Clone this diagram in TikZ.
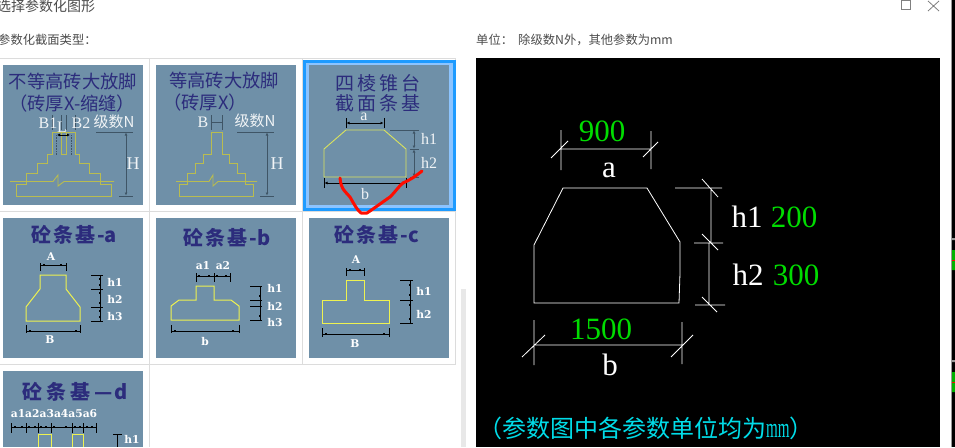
\documentclass[tikz,border=0pt]{standalone}
\usepackage{fontspec}
\setmainfont{Liberation Serif}
\newfontfamily\cjk{Noto Sans CJK SC}
\newfontfamily\cadbold{DejaVu Serif}
\usetikzlibrary{arrows.meta}
\definecolor{slate}{HTML}{6F90A8}
\definecolor{ink}{HTML}{2C2C7C}
\definecolor{gridline}{HTML}{DCDCDC}
\definecolor{selblue}{HTML}{1E9BFF}
\definecolor{sellight}{HTML}{8CC4FF}
\definecolor{oldyellow}{HTML}{B9BC50}
\definecolor{newyellow}{HTML}{EEF250}
\definecolor{dimgrey}{HTML}{3F5566}
\definecolor{cadgreen}{HTML}{00DC00}
\definecolor{cadcyan}{HTML}{00DCE8}
\tikzstyle{every node}=[inner sep=0pt]
\tikzstyle{ui}=[font=\cjk\fontsize{12.3}{12.3}\selectfont, text=black!70]
\tikzstyle{headline}=[font=\cjk\fontsize{18.3}{21}\selectfont, text=ink, align=center]
\tikzstyle{boldline}=[font=\cjk\bfseries\fontsize{20}{21}\selectfont, text=ink]
\tikzstyle{pale}=[font=\fontsize{16}{16}\selectfont, text=white!90!slate]
\tikzstyle{tag}=[font=\cadbold\bfseries\fontsize{10.7}{11}\selectfont, text=white]
\tikzstyle{big}=[font=\fontsize{31}{31}\selectfont, text=white]
\tikzstyle{bignum}=[font=\fontsize{31}{31}\selectfont, text=cadgreen]
\tikzstyle{panel}=[fill=slate, draw=none]
\tikzstyle{brick}=[draw=oldyellow, line width=.9pt]
\tikzstyle{sill}=[draw=newyellow, line width=1pt]
\tikzstyle{dimline}=[draw=dimgrey, line width=.8pt]
\tikzstyle{blackdim}=[draw=black, line width=.7pt]
\tikzstyle{cad}=[draw=white, line width=.8pt]
\tikzset{every picture/.append style={x=1pt,y=-1pt}}
\begin{document}
\begin{tikzpicture}[>={Latex[length=3pt,width=3pt]}]
  \useasboundingbox (0,0) rectangle (955,447);
  \fill[white] (0,0) rectangle (955,447);
  % window text
  \node[ui, anchor=west, font=\cjk\fontsize{14}{14}\selectfont] (wintitle) at (-3,6) {选择参数化图形};
  \node[ui, anchor=west] (typetext) at (-2,40) {参数化截面类型：};
  \node[ui, anchor=west] (unittext) at (476,40) {单位：};
  \node[ui, anchor=west] (unitnote) at (518,40) {除级数N外，其他参数为mm};
  \draw[black!50, line width=.8pt] (901.5,.5) rectangle (910,9);
  \draw[black!50, line width=.8pt] (928,1) -- (939,11) (939,1) -- (928,11);
  % grid of cells
  \draw[gridline, line width=1pt] (0,58.5) -- (456,58.5) (0,211.5) -- (456,211.5) (0,364.5) -- (456,364.5)
    (149.5,58.5) -- (149.5,447) (302.5,58.5) -- (302.5,364.5) (455.5,58.5) -- (455.5,364.5);
  \fill[black!9] (461,289) rectangle (466,447);
  \foreach \x/\y in {3/65,156/65,3/218,156/218,309/218}
    \fill[panel] (\x,\y) rectangle ++(140,140);
  \fill[panel] (3,371) rectangle (143,447);
  % selected cell
  \fill[selblue] (303,60) rectangle (456,211);
  \fill[sellight] (306,63) rectangle (453,208);
  \fill[panel] (309,65) rectangle (449,205);
  % first panel
  \node[headline] (titleone) at (73,82) {不等高砖大放脚};
  \node[headline, anchor=west] (subone) at (9,104) {（砖厚X-缩缝）};
  \draw[brick] (52,132) -- (75,132) -- (75,154) -- (79,154) -- (79,163) -- (89,163) -- (89,173) -- (100,173) -- (100,184)
    -- (111,184) -- (111,196) -- (16,196) -- (16,184) -- (26,184) -- (26,173) -- (37,173) -- (37,163) -- (47,163) -- (47,154) -- (52,154) -- cycle;
  \draw[brick] (61,132) -- (61,154) -- (66,154) -- (66,132);
  \draw[brick] (10,181.5) -- (53,181.5) -- (58,175) -- (58,186) -- (64,181.5) -- (114,181.5);
  \draw[dimgrey, densely dotted, line width=.6pt] (56,135) -- (56,155) (71,135) -- (71,155);
  \draw[dimline] (52,115) -- (52,130) (61,115) -- (61,130) (66,115) -- (66,130) (75,115) -- (75,130);
  \draw[<->, black, line width=.7pt] (57,135) -- (70,135);
  \draw[dimline] (96,132) -- (133,132) (119,196) -- (133,196);
  \draw[<->, dimline] (126,132.5) -- (126,195.5);
  \node[pale] (bone) at (48,123) {B1};
  \node[pale] (lone) at (62,127) {L};
  \node[pale] (btwo) at (81,123) {B2};
  \node[pale, font=\cjk\fontsize{15}{15}\selectfont] (levelone) at (114,122) {级数N};
  \node[pale, font=\fontsize{18}{18}\selectfont] (hone) at (133,164) {H};
  % second panel
  \node[headline] (titletwo) at (224,81) {等高砖大放脚};
  \node[headline, anchor=west] (subtwo) at (163,103) {（砖厚X）};
  \draw[brick] (211,132) -- (222,132) -- (222,154) -- (229,154) -- (229,163) -- (237,163) -- (237,173) -- (245,173) -- (245,184)
    -- (253,184) -- (253,196) -- (179,196) -- (179,184) -- (187,184) -- (187,173) -- (195,173) -- (195,163) -- (203,163) -- (203,154) -- (211,154) -- cycle;
  \draw[brick] (176,181.5) -- (209,181.5) -- (213,175) -- (213,186) -- (218,181.5) -- (257,181.5);
  \draw[dimline] (211,115) -- (211,130) (222,115) -- (222,130) (211,122) -- (222,122);
  \draw[dimline] (237,132) -- (274,132) (260,196) -- (274,196);
  \draw[<->, dimline] (267,132.5) -- (267,195.5);
  \node[pale] (btworow) at (203,122) {B};
  \node[pale, font=\cjk\fontsize{15}{15}\selectfont] (leveltwo) at (255,121) {级数N};
  \node[pale, font=\fontsize{18}{18}\selectfont] (htwo) at (277,164) {H};
  % third panel
  \node[headline, font=\cjk\fontsize{19}{20}\selectfont] (titlethree) at (378,83) {四\,棱\,锥\,台};
  \node[headline, font=\cjk\fontsize{19}{20}\selectfont] (subthree) at (378,103) {截\,面\,条\,基};
  \draw[brick, draw=newyellow!85!slate] (346,130) -- (384,130) -- (406,149) -- (406,177) -- (324,177) -- (324,149) -- cycle;
  \draw[blackdim] (346,118) -- (346,128) (384,118) -- (384,128) (324,178) -- (324,188) (406,178) -- (406,188);
  \draw[<->, blackdim] (346.5,123) -- (383.5,123);
  \draw[<->, blackdim] (324.5,183) -- (405.5,183);
  \draw[dimline] (390,130) -- (419,130) (410,149) -- (419,149) (410,177) -- (419,177);
  \draw[<->, dimline] (414,130.5) -- (414,148.5);
  \draw[<->, dimline] (414,149.5) -- (414,176.5);
  \node[pale] (athree) at (364,117) {a};
  \node[pale] (honethree) at (429,139) {h1};
  \node[pale] (htwothree) at (429,163) {h2};
  \node[pale] (bthree) at (365,194) {b};
  % red pen stroke
  \draw[red!90!orange, line width=3pt, line cap=round, line join=round] (340,178) .. controls (341,190) and (346,192) .. (350,197)
    .. controls (354,204) and (357,210) .. (361,213) -- (367,213) .. controls (376,207) and (384,201) .. (390,197)
    .. controls (396,191) and (399,186) .. (403,183) .. controls (410,180) and (416,176) .. (422,171);
  % panel a
  \node[boldline] (titlea) at (74,235) {砼\kern2pt条\kern2pt基\kern2pt-a};
  \draw[sill] (40,275) -- (66,275) -- (66,289) -- (80,307) -- (80,321) -- (26,321) -- (26,307) -- (40,289) -- cycle;
  \draw[blackdim] (40,263) -- (40,271) (66,263) -- (66,271) (40,265) -- (66,265)
    (26,325) -- (26,333) (80,325) -- (80,333) (26,331) -- (80,331)
    (91,275) -- (103,275) (91,289) -- (103,289) (91,307) -- (103,307) (91,321) -- (103,321) (100,275) -- (100,321);
  \foreach \x/\y in {44/265,61/265,30/331,76/331,100/279,100/285,100/293,100/303,100/311,100/317}
    \fill[black] (\x-1,\y-1) rectangle ++(2.4,2.4);
  \node[tag] (labela) at (51,257) {A};
  \node[tag] (labelb) at (50,340) {B};
  \node[tag] (hai) at (115,282) {h1};
  \node[tag] (hbi) at (115,299) {h2};
  \node[tag] (hci) at (115,317) {h3};
  % panel b
  \node[boldline] (titleb) at (227,238) {砼\kern2pt条\kern2pt基\kern2pt-b};
  \draw[sill] (196,286) -- (214,286) -- (214,300) -- (231,300) -- (239,306) -- (239,320) -- (171,320) -- (171,306) -- (179,300) -- (196,300) -- cycle;
  \draw[blackdim] (196,273) -- (196,282) (214,273) -- (214,282) (230,273) -- (230,282) (196,276) -- (230,276)
    (171,325) -- (171,333) (239,325) -- (239,333) (171,331) -- (239,331)
    (250,286) -- (262,286) (250,300) -- (262,300) (250,306) -- (262,306) (250,320) -- (262,320) (260,286) -- (260,320);
  \foreach \x/\y in {199/276,209/276,217/276,226/276,175/331,233/331,260/296,260/316}
    \fill[black] (\x-1,\y-1) rectangle ++(2.4,2.4);
  \node[tag] (laba) at (203,266) {a1};
  \node[tag] (labb) at (223,266) {a2};
  \node[tag] (labc) at (205,342) {b};
  \node[tag] (hab) at (275,288) {h1};
  \node[tag] (hbb) at (275,306) {h2};
  \node[tag] (hcb) at (275,323) {h3};
  % panel c
  \node[boldline] (titlec) at (377,235) {砼\kern2pt条\kern2pt基\kern2pt-c};
  \draw[sill] (346,280) -- (364,280) -- (364,300) -- (389,300) -- (389,323) -- (322,323) -- (322,300) -- (346,300) -- cycle;
  \draw[blackdim] (346,268) -- (346,276) (364,268) -- (364,276) (346,270) -- (364,270)
    (322,328) -- (322,337) (389,328) -- (389,337) (322,334) -- (389,334)
    (400,280) -- (413,280) (400,300) -- (413,300) (400,323) -- (413,323) (410,280) -- (410,323);
  \foreach \x/\y in {350/270,360/270,326/334,384/334,410/285,410/295,410/305,410/319}
    \fill[black] (\x-1,\y-1) rectangle ++(2.4,2.4);
  \node[tag] (labd) at (356,260) {A};
  \node[tag] (labe) at (355,344) {B};
  \node[tag] (hac) at (424,291) {h1};
  \node[tag] (hbc) at (424,314) {h2};
  % panel d
  \node[boldline] (titled) at (75,392) {砼\kern4pt条\kern4pt基\kern4pt—\kern2pt d};
  \node[tag] (laball) at (54,414) {a1a2a3a4a5a6};
  \draw[sill] (38,447) -- (38,434) -- (51,434) -- (51,447) (72,447) -- (72,434) -- (83,434) -- (83,447);
  \draw[blackdim] (11,427) -- (96,427) (113,434) -- (122,434) (117,434) -- (117,447);
  \foreach \x in {11,26,38,51,72,83,96}
    \draw[blackdim] (\x,423) -- (\x,433);
  \foreach \x in {15,22,29,35,41,46,54,66,75,80,87,92}
    \fill[black] (\x-1,426) rectangle ++(2.2,2.2);
  \node[tag] (hdd) at (132,439) {h1};
  % parameter picture
  \fill[black] (476,58) rectangle (940,447);
  \draw[cad] (563,188) -- (647,188) -- (680,242) -- (680,273) -- (679,303) -- (534,303) -- (534,245) -- cycle;
  \draw[cad] (561,130) -- (561,170) (651,131) -- (651,169) (561,149) -- (651,149)
    (551,158) -- (568,141) (643,157) -- (658,142);
  \draw[cad] (675,188) -- (722,188) (694,243) -- (723,243) (695,305) -- (725,305)
    (711,188) -- (711,243) (709,243) -- (709,305)
    (702,179) -- (718,197) (702,234) -- (718,250) (702,297) -- (717,312);
  \draw[cad] (534,320) -- (534,365) (682,322) -- (682,364) (534,345) -- (682,345)
    (522,357) -- (545,335) (671,357) -- (693,335);
  \node[bignum] (valuea) at (602,131) {900};
  \node[big] (namea) at (609,170) {a};
  \node[big] (nameone) at (747,217) {h1};
  \node[bignum] (valueone) at (794,217) {200};
  \node[big] (nametwo) at (748,275) {h2};
  \node[bignum] (valuetwo) at (796,275) {300};
  \node[bignum] (valueb) at (601,329) {1500};
  \node[big] (nameb) at (610,365) {b};
  \node[anchor=west, text=cadcyan, font=\cjk\fontsize{24}{24}\selectfont] (footnote) at (478,428) {（参数图中各参数单位均为{\rmfamily\scalebox{.54}[1]{\fontsize{28}{28}\selectfont mm}}）};
  % edge of the next window
  \fill[black] (952,0) rectangle (955,447);
  \draw[black!40, line width=1pt] (951,0) -- (951,447);
  \fill[black!40] (952,238) rectangle (955,240) (952,360) rectangle (955,362);
  \fill[green!70!black] (952,250) rectangle (955,270) (952,372) rectangle (955,392);
  \draw[red, line width=.8pt] (952,260) -- (955,260) (952,382) -- (955,382);
\end{tikzpicture}
\end{document}
